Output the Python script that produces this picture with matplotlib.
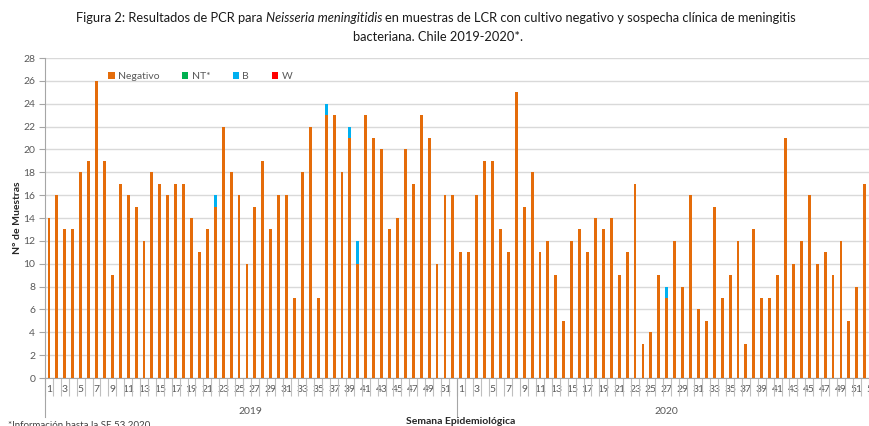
import numpy as np
import matplotlib
matplotlib.use("Agg")
import matplotlib.pyplot as plt
from matplotlib.transforms import blended_transform_factory

plt.rcParams['font.family'] = ['Lato', 'DejaVu Sans']

# ---------------- data ----------------
weeks_2019 = list(range(1, 53))
weeks_2020 = list(range(1, 54))
negativo_2019 = [14, 16, 13, 13, 18, 19, 26, 19, 9, 17, 16, 15, 12, 18, 17, 16, 17, 17, 14, 11,
                 13, 15, 22, 18, 16, 10, 15, 19, 13, 16, 16, 7, 18, 22, 7, 23, 23, 18, 21, 10,
                 23, 21, 20, 13, 14, 20, 17, 23, 21, 10, 16, 16]
b_2019 = [0] * 52
b_2019[21] = 1   # SE 22
b_2019[35] = 1   # SE 36
b_2019[38] = 1   # SE 39
b_2019[39] = 2   # SE 40
negativo_2020 = [11, 11, 16, 19, 19, 13, 11, 25, 15, 18, 11, 12, 9, 5, 12, 13, 11, 14, 13, 14,
                 9, 11, 17, 3, 4, 9, 7, 12, 8, 16, 6, 5, 15, 7, 9, 12, 3, 13, 7, 7,
                 9, 21, 10, 12, 16, 10, 11, 9, 12, 5, 8, 17, 0]
b_2020 = [0] * 53
b_2020[26] = 1   # SE 27
years = ['2019', '2020']

negativo = np.array(negativo_2019 + negativo_2020, dtype=float)
nt = np.zeros_like(negativo)
b = np.array(b_2019 + b_2020, dtype=float)
w = np.zeros_like(negativo)
week_labels = weeks_2019 + weeks_2020
n = len(week_labels)
x = np.arange(n)

# ---------------- figure ----------------
W, H = 870, 426
fig = plt.figure(figsize=(W / 100, H / 100), dpi=100)
ax_left, ax_bottom = 45 / W, (H - 378) / H
ax_w, ax_h = n * 7.92 / W, 320 / H
ax = fig.add_axes([ax_left, ax_bottom, ax_w, ax_h])

c_neg, c_nt, c_b, c_w = '#E46C0A', '#00B050', '#00B0F0', '#FF0000'
bw = 0.36
h1 = ax.bar(x, negativo, width=bw, color=c_neg, label='Negativo', zorder=3)
h2 = ax.bar(x, nt, width=bw, bottom=negativo, color=c_nt, label='NT*', zorder=3)
h3 = ax.bar(x, b, width=bw, bottom=negativo + nt, color=c_b, label='B', zorder=3)
h4 = ax.bar(x, w, width=bw, bottom=negativo + nt + b, color=c_w, label='W', zorder=3)

ax.set_xlim(-0.5, n - 0.5)
ax.set_ylim(0, 28)
ax.set_yticks(np.arange(0, 29, 2))
ax.yaxis.grid(True, color='#D9D9D9', lw=1.0, zorder=0)
ax.set_axisbelow(True)
for s in ['top', 'right']:
    ax.spines[s].set_visible(False)
ax.spines['left'].set_color('#A6A6A6')
ax.spines['bottom'].set_color('#A6A6A6')
ax.tick_params(axis='y', length=4, color='#A6A6A6', labelsize=7.5, labelcolor='#595959', pad=3)

# x ticks: labels on odd weeks, separators at each category boundary
major = [i for i in range(n) if week_labels[i] % 2 == 1]
ax.set_xticks(major)
ax.set_xticklabels([str(week_labels[i]) for i in major])
ax.set_xticks(np.arange(-0.5, n, 1.0), minor=True)
ax.tick_params(axis='x', which='major', length=0, labelsize=7.5, labelcolor='#595959', pad=5)
ax.tick_params(axis='x', which='minor', length=13, color='#BFBFBF', width=0.8, direction='out')

# year grouping
tr = blended_transform_factory(ax.transData, ax.transAxes)
ydrop = -(416.7 - 378) / 320
for xb in [-0.5, 51.5]:
    ax.plot([xb, xb], [0, ydrop], transform=tr, color='#A6A6A6', lw=0.8, clip_on=False)
ax.text((-0.5 + 51.5) / 2, -(411 - 378) / 320, years[0], transform=tr, ha='center', va='center',
        fontsize=7.5, color='#595959')
ax.text((51.5 + n - 0.5) / 2, -(411 - 378) / 320, years[1], transform=tr, ha='center', va='center',
        fontsize=7.5, color='#595959')

fig.text(461 / W, 1 - 422 / H, 'Semana Epidemiológica', ha='center', va='center',
         fontsize=7.5, fontweight='bold', color='#262626')
fig.text(8 / W, 1 - 421 / H, '*Información hasta la SE 53 2020', ha='left', va='top',
         fontsize=7, color='#404040')

ax.set_ylabel('N° de Muestras', fontsize=7.5, fontweight='bold', color='#262626', labelpad=1)

leg = ax.legend(handles=[h1, h2, h3, h4], loc='upper left', bbox_to_anchor=(54 / (n * 7.92), 0.985),
                ncol=4, frameon=False, fontsize=7.5, handlelength=0.6, handleheight=0.6,
                handletextpad=0.3, columnspacing=2.2, labelcolor='#595959')

# ---------------- title with italic species name ----------------
renderer = fig.canvas.get_renderer()
fs = 9.3
parts = [('Figura 2: Resultados de PCR para', 'normal'),
         ('Neisseria meningitidis', 'italic'),
         ('en muestras de LCR con cultivo negativo y sospecha clínica de meningitis', 'normal')]
tmp = fig.text(0, 0, 'a a', fontsize=fs)
wa = tmp.get_window_extent(renderer).width
tmp.set_text('aa')
sp = wa - tmp.get_window_extent(renderer).width
tmp.remove()
texts, widths = [], []
for s, st in parts:
    t = fig.text(0, 1 - 18 / H, s, fontsize=fs, style=st, va='center', ha='left', color='#1a1a1a')
    texts.append(t)
    widths.append(t.get_window_extent(renderer).width)
total = sum(widths) + sp * (len(parts) - 1)
xpos = 436 - total / 2
for t, wd in zip(texts, widths):
    t.set_x(xpos / W)
    xpos += wd + sp
fig.text(438 / W, 1 - 37 / H, 'bacteriana. Chile 2019-2020*.', fontsize=fs, ha='center', va='center',
         color='#1a1a1a')

fig.savefig('out.png', dpi=100)
